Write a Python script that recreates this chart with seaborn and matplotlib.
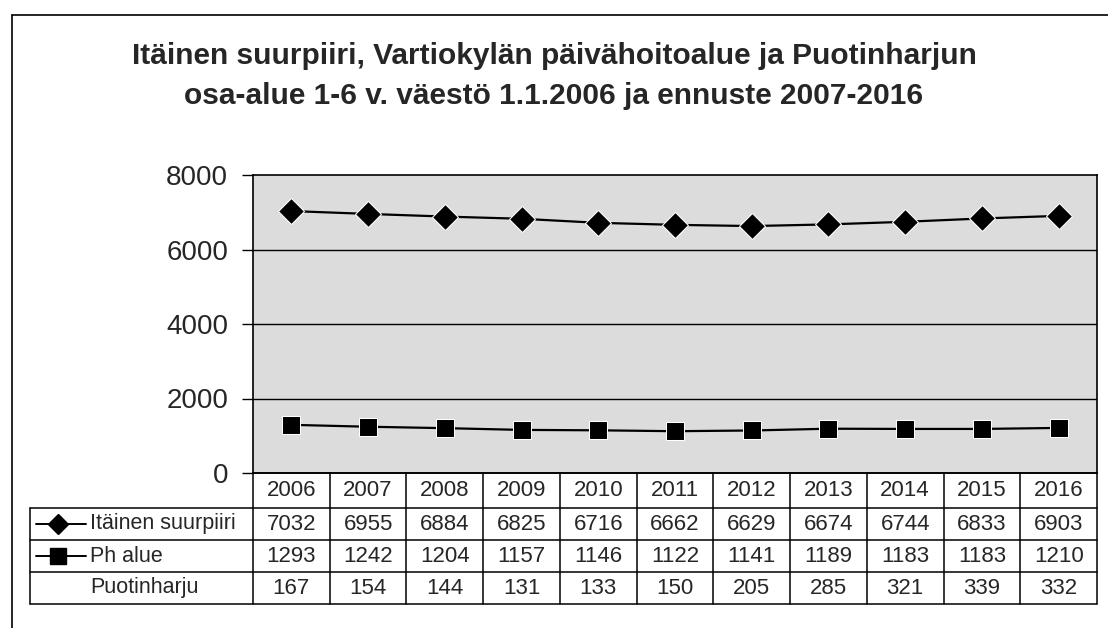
import matplotlib
matplotlib.use("Agg")
import matplotlib.pyplot as plt
import seaborn as sns
import pandas as pd
from matplotlib.lines import Line2D

years = ["2006", "2007", "2008", "2009", "2010", "2011", "2012", "2013", "2014", "2015", "2016"]
itainen = [7032, 6955, 6884, 6825, 6716, 6662, 6629, 6674, 6744, 6833, 6903]
ph_alue = [1293, 1242, 1204, 1157, 1146, 1122, 1141, 1189, 1183, 1183, 1210]
puotinharju = [167, 154, 144, 131, 133, 150, 205, 285, 321, 339, 332]
series_names = ["Itäinen suurpiiri", "Ph alue", "Puotinharju"]
yticks = [0, 2000, 4000, 6000, 8000]
title = "Itäinen suurpiiri, Vartiokylän päivähoitoalue ja Puotinharjun\nosa-alue 1-6 v. väestö 1.1.2006 ja ennuste 2007-2016"

sns.set_theme(style="white")
plt.rcParams['font.family'] = ['Liberation Sans', 'DejaVu Sans']

W, H = 1108, 628
fig = plt.figure(figsize=(W / 100, H / 100), dpi=100)
fig.patch.set_facecolor("white")

# plot area in pixel coords
L, R, T, B = 253, 1097, 175, 473
ax = fig.add_axes([L / W, 1 - B / H, (R - L) / W, (B - T) / H])
ax.set_facecolor("#dcdcdc")

df = pd.DataFrame({
    "x": list(range(len(years))) * 2,
    "value": itainen + ph_alue,
    "series": [series_names[0]] * len(years) + [series_names[1]] * len(years),
})
sns.lineplot(data=df, x="x", y="value", hue="series", style="series",
             palette=["black", "black"], markers=["D", "s"], dashes=False,
             markersize=13, linewidth=1.6, legend=False, ax=ax, zorder=3)

ax.set_xlim(-0.5, len(years) - 0.5)
ax.set_ylim(0, 8000)
ax.set_yticks(yticks)
ax.set_yticklabels([str(v) for v in yticks], fontsize=20)
ax.tick_params(axis="y", length=8, width=1, color="black", pad=10, left=True)
ax.set_xticks([])
ax.set_xlabel("")
ax.set_ylabel("")
for sp in ax.spines.values():
    sp.set_color("black")
    sp.set_linewidth(1.2)
for v in yticks[1:-1]:
    ax.axhline(v, color="black", lw=1.0, zorder=1)

# data table under axes (x in data coords, y in axes fraction)
tr = ax.get_xaxis_transform()
colw = (R - L) / len(years)
def px2x(px):
    return -0.5 + (px - L) / colw
def py2y(py):
    return (B - py) / (B - T)

rows_px = [473, 508, 540, 572, 604]
rows_y = [py2y(p) for p in rows_px]
x_left = px2x(30)
x_right = len(years) - 0.5
kw = dict(transform=tr, clip_on=False, color="black", lw=1.1)

# horizontal lines
ax.plot([-0.5, x_right], [rows_y[0]] * 2, **kw)
for y in rows_y[1:]:
    ax.plot([x_left, x_right], [y, y], **kw)
# vertical lines
for k in range(len(years) + 1):
    ax.plot([-0.5 + k] * 2, [rows_y[0], rows_y[-1]], **kw)
ax.plot([x_left] * 2, [rows_y[1], rows_y[-1]], **kw)

fs = 16
for i, yr in enumerate(years):
    ax.text(i, (rows_y[0] + rows_y[1]) / 2, yr, transform=tr, ha="center", va="center", fontsize=fs)
table_rows = [itainen, ph_alue, puotinharju]
for r, vals in enumerate(table_rows):
    yc = (rows_y[r + 1] + rows_y[r + 2]) / 2
    for i, v in enumerate(vals):
        ax.text(i, yc, str(v), transform=tr, ha="center", va="center", fontsize=fs)
    ax.text(px2x(90), yc, series_names[r], transform=tr, ha="left", va="center", fontsize=15.5)

# legend keys
for r, mk, ms in [(0, "D", 10), (1, "s", 12)]:
    yc = (rows_y[r + 1] + rows_y[r + 2]) / 2
    ax.add_line(Line2D([px2x(36), px2x(86)], [yc, yc], transform=tr, clip_on=False, color="black", lw=1.4))
    ax.add_line(Line2D([px2x(58)], [yc], transform=tr, clip_on=False, color="black", marker=mk, markersize=ms, lw=0))

# title
fig.text(554 / W, 1 - 76 / H, title, ha="center", va="center", fontsize=21.5, fontweight="bold", linespacing=1.55)

# outer frame (cut at right/bottom)
fig.add_artist(Line2D([12 / W, 12 / W], [1 - 15 / H, 0], transform=fig.transFigure, color="black", lw=1.2))
fig.add_artist(Line2D([12 / W, 1], [1 - 15 / H, 1 - 15 / H], transform=fig.transFigure, color="black", lw=1.2))

fig.savefig("out.png", dpi=100, facecolor="white")
